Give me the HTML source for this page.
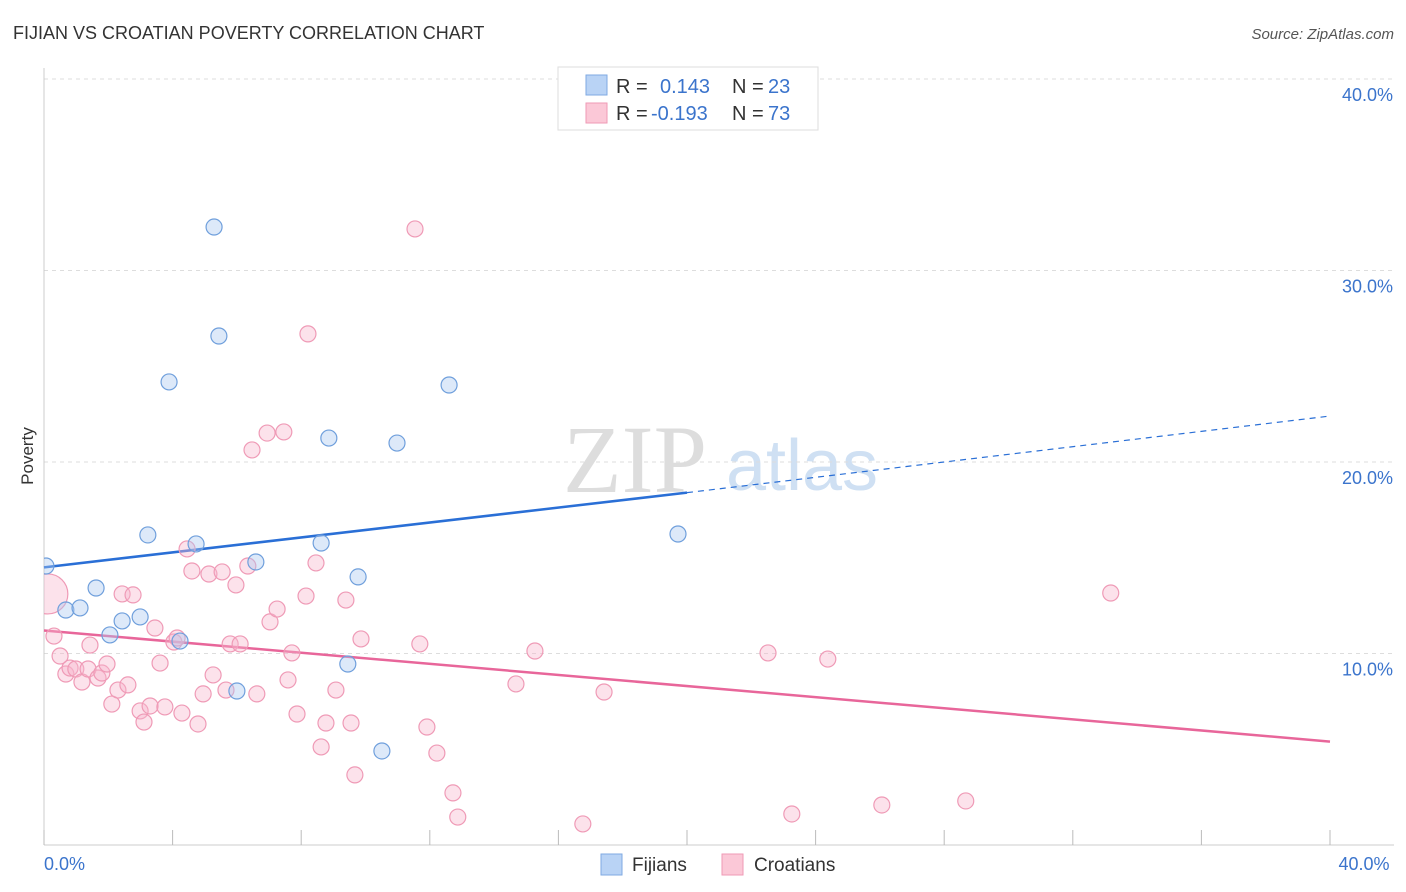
<!DOCTYPE html>
<html><head><meta charset="utf-8"><style>
body{margin:0;background:#fff;font-family:"Liberation Sans",sans-serif;}
svg{display:block}
</style></head><body>
<svg id="chart" width="1406" height="892" viewBox="0 0 1406 892" xmlns="http://www.w3.org/2000/svg">
<defs><clipPath id="plotclip"><rect x="44" y="60" width="1360" height="785"/></clipPath></defs>
<text x="13" y="39" font-size="18" fill="#333">FIJIAN VS CROATIAN POVERTY CORRELATION CHART</text>
<text x="1394" y="39" font-size="15" fill="#555" text-anchor="end" font-style="italic">Source: ZipAtlas.com</text>
<text transform="translate(33,456) rotate(-90)" font-size="17" fill="#333" text-anchor="middle">Poverty</text>
<g>
<text x="635" y="492" font-size="96" fill="#ddd" text-anchor="middle" font-family="Liberation Serif,serif">ZIP</text>
<text x="802" y="490" font-size="72" fill="#cfe0f3" text-anchor="middle">atlas</text>
</g>
<g id="grid"></g><g id="axes"></g><g id="lines"></g><g id="pts" clip-path="url(#plotclip)"></g>
<g>
<rect x="558" y="67" width="260" height="63" fill="#fff" stroke="#ddd"/>
<rect x="586" y="75" width="21" height="20" fill="#b9d3f5" stroke="#7fa9e2"/>
<rect x="586" y="103" width="21" height="20" fill="#fbc8d7" stroke="#ef9ab6"/>
<text x="616" y="93" font-size="20" fill="#333">R =</text><text x="660" y="93" font-size="20" fill="#3b74cc">0.143</text>
<text x="732" y="93" font-size="20" fill="#333">N =</text><text x="768" y="93" font-size="20" fill="#3b74cc">23</text>
<text x="616" y="120" font-size="20" fill="#333">R =</text><text x="651" y="120" font-size="20" fill="#3b74cc">-0.193</text>
<text x="732" y="120" font-size="20" fill="#333">N =</text><text x="768" y="120" font-size="20" fill="#3b74cc">73</text>
</g>
<g>
<rect x="601" y="854" width="21" height="21" fill="#b9d3f5" stroke="#7fa9e2"/>
<text x="632" y="871" font-size="19" fill="#333">Fijians</text>
<rect x="722" y="854" width="21" height="21" fill="#fbc8d7" stroke="#ef9ab6"/>
<text x="754" y="871" font-size="19" fill="#333">Croatians</text>
</g>
</svg>
<script>
const yTicks=[10,20,30,40];
const xTickLabels=["0.0%","40.0%"];
const fijX=[0.06,0.68,1.12,1.62,2.05,2.43,2.99,3.23,3.89,4.23,4.73,5.29,5.44,6.00,6.59,8.62,8.86,9.45,9.77,10.51,10.98,12.60,19.72];
const fijY=[14.57,12.27,12.38,13.42,10.97,11.70,11.91,16.19,24.18,10.65,15.72,32.27,26.58,8.04,14.78,15.77,21.25,9.45,14.00,4.91,20.99,24.02,16.24];
const croX=[0.12,0.31,0.50,0.68,0.81,0.99,1.18,1.37,1.43,1.68,1.80,1.96,2.11,2.30,2.43,2.61,2.77,2.99,3.11,3.30,3.45,3.61,3.76,4.04,4.14,4.29,4.45,4.60,4.79,4.95,5.13,5.26,5.54,5.66,5.79,5.97,6.10,6.34,6.47,6.62,6.94,7.03,7.25,7.46,7.59,7.71,7.87,8.15,8.21,8.46,8.62,8.77,9.08,9.39,9.55,9.67,9.86,11.54,11.69,11.91,12.22,12.72,12.87,14.68,15.27,16.76,17.42,22.52,23.26,24.38,26.06,28.67,33.18];
const croY=[13.11,10.91,9.87,8.93,9.24,9.19,8.51,9.19,10.44,8.72,8.98,9.45,7.36,8.09,13.11,8.36,13.06,7.00,6.42,7.26,11.33,9.50,7.21,10.60,10.81,6.89,15.46,14.31,6.32,7.89,14.15,8.88,14.26,8.09,10.50,13.58,10.50,14.57,20.63,7.89,21.51,11.65,12.32,21.57,8.62,10.03,6.84,13.00,26.69,14.73,5.12,6.37,8.09,12.79,6.37,3.66,10.76,32.17,10.50,6.16,4.80,2.72,1.46,8.41,10.13,1.10,7.99,10.03,1.62,9.71,2.09,2.30,13.16];
const fijLine=[14.5,18.4,22.4];
const croLine=[11.2,5.4];
const X=v=>44+v*1286/40, Y=v=>845-v*191.5/10;
const NS="http://www.w3.org/2000/svg";
function mk(p,t,a){const e=document.createElementNS(NS,t);for(const k in a)e.setAttribute(k,a[k]);document.getElementById(p).appendChild(e);return e;}
yTicks.forEach(t=>{
 const g=mk('grid','line',{x1:44,x2:1394,y1:Y(t),y2:Y(t),stroke:'#ddd','stroke-dasharray':'4,4'});
 
 
 const l=mk('axes','text',{x:1393,y:Y(t)+22,'font-size':18,fill:'#3b74cc','text-anchor':'end'});
 l.textContent=t.toFixed(1)+'%';
 
 
});
const ax=mk('axes','line',{x1:44,x2:44,y1:68,y2:845,stroke:'#ccc'});


const bx=mk('axes','line',{x1:44,x2:1394,y1:845,y2:845,stroke:'#ccc'});


for(let i=0;i<=10;i++){const t=mk('axes','line',{x1:X(i*4),x2:X(i*4),y1:830,y2:845,stroke:'#bbb'});
 
 }
[[0,'start',44],[40,'middle',1364]].forEach((d,i)=>{const l=mk('axes','text',{x:d[2],y:870,'font-size':18,fill:'#3b74cc','text-anchor':d[1]});
 l.textContent=xTickLabels[i];
 
 });
const fl=mk('lines','line',{x1:X(0),y1:Y(fijLine[0]),x2:X(20),y2:Y(fijLine[1]),stroke:'#2a6fd6','stroke-width':2.5});


const fd=mk('lines','line',{x1:X(20),y1:Y(fijLine[1]),x2:X(40),y2:Y(fijLine[2]),stroke:'#2a6fd6','stroke-width':1.2,'stroke-dasharray':'6,5'});


const cl=mk('lines','line',{x1:X(0),y1:Y(croLine[0]),x2:X(40),y2:Y(croLine[1]),stroke:'#e8669a','stroke-width':2.5});


croX.forEach((v,i)=>{const c=mk('pts','circle',{cx:X(v),cy:Y(croY[i]),r:i==0?20:8,fill:'rgba(248,182,204,0.4)',stroke:'#ef9ab6','stroke-width':1.2});
 
 });
fijX.forEach((v,i)=>{const c=mk('pts','circle',{cx:X(v),cy:Y(fijY[i]),r:8,fill:'rgba(170,200,240,0.4)',stroke:'#6f9fdc','stroke-width':1.2});
 
 });
</script>
</body></html>
